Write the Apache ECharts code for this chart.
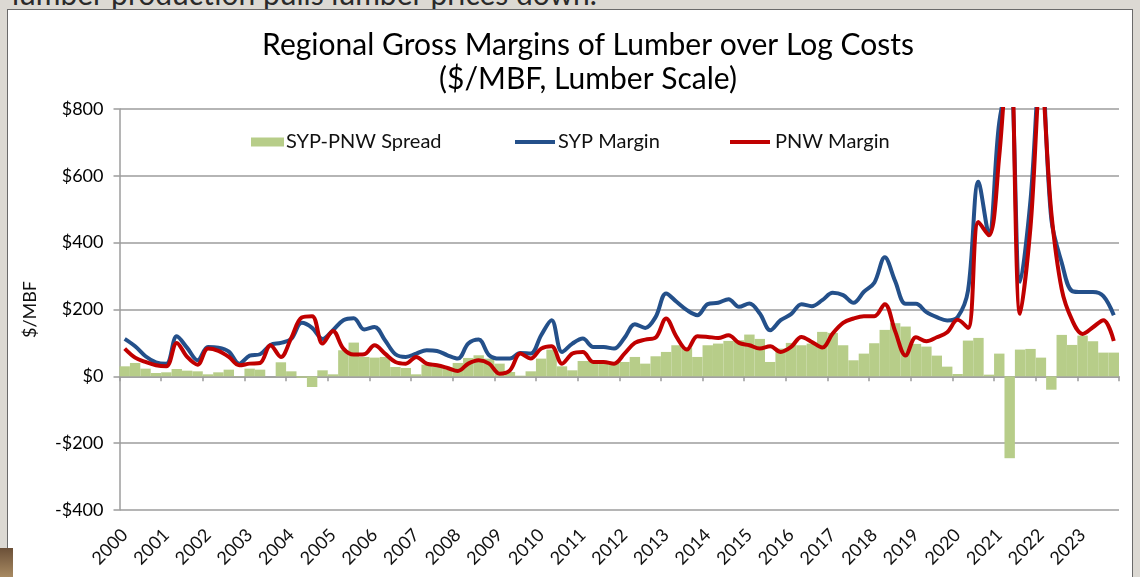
<!DOCTYPE html>
<html lang="en">
<head>
    <meta charset="UTF-8">
    <title>Regional Gross Margins</title>
    <script src="https://cdn.jsdelivr.net/npm/echarts@6/dist/echarts.min.js"></script>
<style>
    html,body{
        margin: 0;
        padding: 0;
        background: #dcd9d3;
        overflow: hidden;
    }
    #slideText{
        position: absolute;
        left: 12px;
        top: -22px;
        font-family: Lato, sans-serif;
        font-size: 30px;
        line-height: 30px;
        color: #2a2a2a;
        white-space: nowrap;
    }
    #panel{
        position: absolute;
        left: 7px;
        top: 9px;
        width: 1124px;
        height: 570px;
        background: #fff;
        border: 1px solid #6a6a6a;
    }
    #corner{
        position: absolute;
        left: 0;
        top: 548px;
        width: 13px;
        height: 29px;
        background: linear-gradient(#6b5038, #a88a62);
    }
    #chart{
        position: absolute;
        left: 0;
        top: 0;
        width: 1140px;
        height: 577px;
    }
</style>
</head>
<body>
<div id="slideText">lumber production pulls lumber prices down.</div>
<div id="panel"></div>
<div id="corner"></div>
<div id="chart"></div>
<script>
    var years = ['2000','2001','2002','2003','2004','2005','2006','2007','2008','2009','2010','2011',
        '2012','2013','2014','2015','2016','2017','2018','2019','2020','2021','2022','2023'];
    var quarterNames = ['Q1','Q2','Q3','Q4'];
    var quarters = [];
    years.forEach(function (y) {
        quarterNames.forEach(function (q) { quarters.push(y + ' ' + q); });
    });

    // SYP margin, $/MBF, quarterly 2000 Q1 .. 2023 Q4
    var sypMargin = [
        112, 90, 60, 42, 38, 120, 85, 48, 88, 86, 74, 38,
        62, 66, 94, 100, 112, 160, 145, 112, 138, 168, 174, 140,
        148, 108, 66, 58, 68, 78, 76, 63, 53, 98, 110, 63,
        53, 53, 70, 68, 123, 168, 73, 98, 113, 88, 88, 83,
        115, 156, 145, 178, 248, 223, 198, 183, 216, 220, 231, 208,
        218, 188, 138, 168, 186, 216, 210, 228, 250, 243, 220, 253,
        280, 356, 285, 217, 217, 192, 177, 167, 177, 257, 582, 427,
        760, 900, 283, 527, 950, 470, 340, 255, 252, 252, 240, 183
    ];
    // PNW margin, $/MBF
    var pnwMargin = [
        83, 56, 43, 33, 30, 100, 58, 35, 83, 76, 58, 33,
        38, 40, 93, 58, 115, 176, 180, 98, 136, 83, 65, 66,
        93, 68, 43, 38, 58, 38, 33, 25, 16, 38, 48, 38,
        8, 18, 68, 53, 83, 90, 38, 68, 73, 43, 43, 38,
        68, 100, 110, 116, 173, 118, 80, 120, 118, 115, 123, 100,
        93, 83, 90, 73, 88, 118, 103, 86, 128, 160, 173, 180,
        180, 216, 135, 62, 117, 105, 117, 132, 169, 145, 462, 422,
        660, 1050, 187, 447, 895, 490, 260, 168, 127, 147, 168, 106
    ];
    // SYP-PNW spread, $/MBF
    var spread = [
        30, 40, 23, 10, 12, 22, 17, 15, 6, 12, 20, 1,
        23, 20, 0, 42, 15, -4, -32, 18, 6, 78, 101, 58,
        56, 58, 28, 25, 6, 35, 28, 28, 40, 55, 63, 53,
        38, 13, 2, 15, 53, 80, 30, 18, 46, 46, 38, 43,
        43, 58, 38, 60, 73, 93, 86, 58, 93, 98, 106, 108,
        125, 112, 43, 83, 100, 93, 98, 133, 130, 93, 48, 68,
        99, 139, 159, 149, 97, 89, 62, 29, 7, 107, 115, 5,
        68, -245, 80, 82, 56, -40, 124, 94, 122, 105, 71, 71
    ];

    var chart = echarts.init(document.getElementById('chart'));
    var font = 'Lato, sans-serif';
    var grey = '#9c9c9c';

    var option = {
        animation: false,
        title: {
            text: 'Regional Gross Margins of Lumber over Log Costs\n($/MBF, Lumber Scale)',
            left: 583,
            top: 23,
            textAlign: 'center',
            textStyle: {
                fontFamily: font,
                fontSize: 30,
                fontWeight: 'normal',
                lineHeight: 34,
                color: '#000'
            }
        },
        legend: [
            {
                data: ['SYP-PNW Spread'],
                left: 246, top: 127,
                icon: 'rect', itemWidth: 33, itemHeight: 9,
                textStyle: {fontFamily: font, fontSize: 20, color: '#111', padding: [0, 0, 0, -3]}
            },
            {
                data: ['SYP Margin'],
                left: 510, top: 127,
                icon: 'rect', itemWidth: 40, itemHeight: 4,
                textStyle: {fontFamily: font, fontSize: 20, color: '#111', padding: [0, 0, 0, -2]}
            },
            {
                data: ['PNW Margin'],
                left: 725, top: 127,
                icon: 'rect', itemWidth: 40, itemHeight: 4,
                textStyle: {fontFamily: font, fontSize: 20, color: '#111'}
            }
        ],
        grid: {
            left: 119.5,
            right: 21,
            top: 109,
            bottom: 67
        },
        xAxis: [
            {
                type: 'category',
                data: quarters,
                position: 'bottom',
                axisLine: {show: false, onZero: false},
                axisTick: {show: false},
                axisLabel: {
                    interval: 3,
                    rotate: 45,
                    margin: 22,
                    fontFamily: font,
                    fontSize: 18,
                    color: '#111',
                    formatter: function (v) { return v.slice(0, 4); }
                }
            },
            {
                type: 'category',
                data: quarters,
                position: 'top',
                axisLine: {show: true, onZero: true, lineStyle: {color: grey, width: 1.5}},
                axisTick: {show: true, interval: 3, inside: true, length: 5, lineStyle: {color: grey, width: 1.5}},
                axisLabel: {show: false}
            }
        ],
        yAxis: {
            type: 'value',
            min: -400,
            max: 800,
            interval: 200,
            name: '$/MBF',
            nameLocation: 'middle',
            nameGap: 80,
            nameTextStyle: {fontFamily: font, fontSize: 18, color: '#111'},
            axisLine: {show: true, lineStyle: {color: grey, width: 1.5}},
            axisTick: {show: true, length: 6, lineStyle: {color: grey, width: 1.5}},
            splitLine: {lineStyle: {color: grey, width: 1.5}},
            axisLabel: {
                margin: 16,
                fontFamily: font,
                fontSize: 18,
                color: '#000',
                formatter: function (v) { return v < 0 ? '-$' + Math.abs(v) : '$' + v; }
            }
        },
        series: [
            {
                name: 'SYP-PNW Spread',
                type: 'bar',
                barCategoryGap: '0%',
                itemStyle: {color: '#b7cd89'},
                data: spread
            },
            {
                name: 'SYP Margin',
                type: 'line',
                smooth: 0.35,
                symbol: 'none',
                lineStyle: {color: '#24508a', width: 4},
                itemStyle: {color: '#24508a'},
                data: sypMargin
            },
            {
                name: 'PNW Margin',
                type: 'line',
                smooth: 0.35,
                symbol: 'none',
                lineStyle: {color: '#c00000', width: 4},
                itemStyle: {color: '#c00000'},
                data: pnwMargin
            }
        ]
    };
    chart.setOption(option);
</script>
</body>
</html>
